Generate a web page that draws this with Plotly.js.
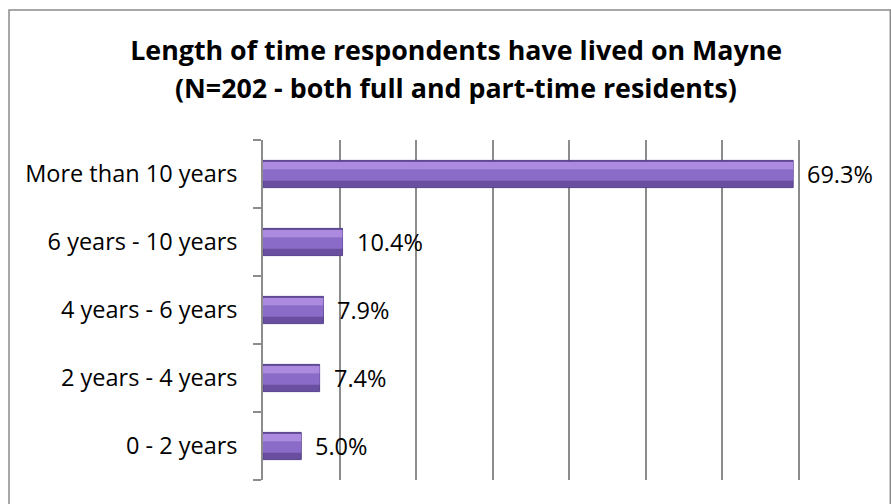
<!DOCTYPE html>
<html>
<head>
<meta charset="utf-8">
<script src="https://cdn.plot.ly/plotly-3.0.1.min.js"></script>
<style>
  html, body { margin: 0; padding: 0; background: #fff; }
  #myDiv { width: 891px; height: 504px; }
</style>
</head>
<body>
<div id="myDiv"></div>
<script>
// categories listed bottom to top (plotly puts the first category at the bottom)
var categories = ["0 - 2 years", "2 years - 4 years", "4 years - 6 years", "6 years - 10 years", "More than 10 years"];
var percents = [5.0, 7.4, 7.9, 10.4, 69.3];
var labels = ["5.0%", "7.4%", "7.9%", "10.4%", "69.3%"];
var titleLines = ["Length of time respondents have lived on Mayne", "(N=202 - both full and part-time residents)"];

var fontName = "Open Sans, Lato, sans-serif";

window.onload = function() {
	// three overlaid bars give the bevelled purple look
	var base = {
		type: 'bar', orientation: 'h',
		x: percents, y: categories,
		width: 0.4,
		marker: {color: '#6a4fa0', line: {color: '#55408a', width: 1}},
		hoverinfo: 'skip'
	};
	var middle = {
		type: 'bar', orientation: 'h',
		x: percents, y: categories,
		width: 0.17, offset: -0.1,
		marker: {color: '#8a6bc7', line: {width: 0}},
		hoverinfo: 'skip'
	};
	var upper = {
		type: 'bar', orientation: 'h',
		x: percents, y: categories,
		width: 0.11, offset: 0.065,
		marker: {color: '#ab8ae0', line: {width: 0}},
		hoverinfo: 'skip'
	};

	// value labels right of each bar
	var notes = [];
	for (var i = 0; i < categories.length; i++) {
		notes.push({
			x: percents[i], y: categories[i],
			text: labels[i],
			xanchor: 'left', yanchor: 'middle',
			xshift: 12,
			showarrow: false,
			font: {family: fontName, size: 23.5, color: '#000'}
		});
	}
	// second title line, placed by hand to get the wider line spacing
	notes.push({
		xref: 'paper', yref: 'paper',
		x: 0.315, y: 1.155,
		xanchor: 'center', yanchor: 'middle',
		text: '<b>' + titleLines[1] + '</b>',
		showarrow: false,
		font: {family: fontName, size: 26.8, color: '#000'}
	});

	var layout = {
		width: 891, height: 504,
		margin: {l: 263, r: 16, t: 140, b: 24},
		paper_bgcolor: '#fff', plot_bgcolor: '#fff',
		barmode: 'overlay',
		showlegend: false,
		title: {
			text: '<b>' + titleLines[0] + '</b>',
			font: {family: fontName, size: 26.8, color: '#000'},
			x: 0.512, xanchor: 'center',
			y: 0.9, yanchor: 'middle',
			xref: 'container', yref: 'container'
		},
		xaxis: {
			range: [0, 80], dtick: 10,
			showgrid: true, gridcolor: '#8c8c8c', gridwidth: 1.5,
			showticklabels: false, zeroline: false, showline: false,
			ticks: '',
			fixedrange: true
		},
		yaxis: {
			type: 'category',
			showline: true, linecolor: '#8c8c8c', linewidth: 1.5,
			ticks: 'outside', tickson: 'boundaries', ticklen: 8, tickcolor: '#8c8c8c', tickwidth: 1.5,
			ticklabelstandoff: 19,
			tickfont: {family: fontName, size: 23.5, color: '#000'},
			showgrid: false, zeroline: false,
			fixedrange: true
		},
		annotations: notes,
		shapes: [{
			type: 'rect', xref: 'paper', yref: 'paper',
			x0: -0.415, x1: 1.025, y0: -0.2, y1: 1.382,
			line: {color: '#8a8a8a', width: 1.5}
		}]
	};

	Plotly.newPlot('myDiv', [base, middle, upper], layout, {displayModeBar: false});
}
</script>
</body>
</html>
